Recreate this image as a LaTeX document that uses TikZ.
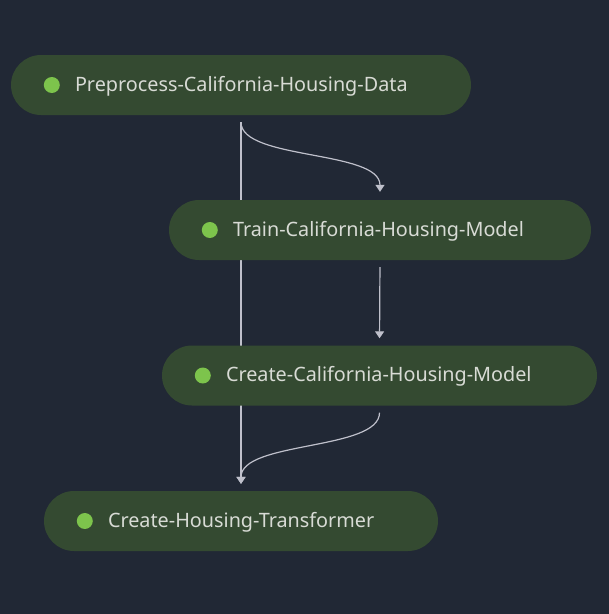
\documentclass[tikz,border=0pt]{standalone}
\usepackage{fontspec}
\setmainfont{Noto Sans}
\usetikzlibrary{positioning, arrows.meta, backgrounds}
\definecolor{bgblue}{HTML}{212835}
\definecolor{pillgreen}{HTML}{344A31}
\definecolor{dotgreen}{HTML}{7DC44C}
\definecolor{textgrey}{HTML}{D8DBD5}
\definecolor{edgegrey}{HTML}{BFC0CB}

\begin{document}
\begin{tikzpicture}[x=1pt, y=-1pt,
  stepbox/.style={fill=pillgreen, rounded corners=30pt, minimum height=60pt, inner sep=0pt},
  statusdot/.style={circle, fill=dotgreen, minimum size=16pt, inner sep=0pt},
  steptext/.style={anchor=west, text=textgrey, inner sep=0pt, font=\fontsize{19.8}{24}\selectfont},
  flow/.style={draw=edgegrey, line width=1.2pt, -{Triangle[width=9pt, length=7pt]}}]
  \useasboundingbox (0,0) rectangle (609,614);

  \node[stepbox, minimum width=460pt] (preprocess) at (241,85) {};
  \node[stepbox, minimum width=422pt] (train)      at (380,230) {};
  \node[stepbox, minimum width=435pt] (model)      at (379.5,375.5) {};
  \node[stepbox, minimum width=394pt] (transform)  at (241,521) {};

  \node[statusdot] (preprocess dot) at ([xshift=41pt]preprocess.west) {};
  \node[steptext]  (preprocess txt) at ([xshift=64pt, yshift=-1pt]preprocess.west) {Preprocess-California-Housing-Data};
  \node[statusdot] (train dot) at ([xshift=41pt]train.west) {};
  \node[steptext]  (train txt) at ([xshift=64pt, yshift=-1pt]train.west) {Train-California-Housing-Model};
  \node[statusdot] (model dot) at ([xshift=41pt]model.west) {};
  \node[steptext]  (model txt) at ([xshift=64pt, yshift=-1pt]model.west) {Create-California-Housing-Model};
  \node[statusdot] (transform dot) at ([xshift=41pt]transform.west) {};
  \node[steptext]  (transform txt) at ([xshift=64pt, yshift=-1pt]transform.west) {Create-Housing-Transformer};

  \begin{scope}[on background layer]
    \fill[bgblue] (0,0) rectangle (609,614);
    \draw[flow, shorten <=7pt, shorten >=7pt] (preprocess.south) -- (transform.north);
    \draw[flow, shorten <=7pt, shorten >=8pt] (preprocess.south)
      .. controls ([yshift=-45pt]preprocess.south) and ([yshift=50pt]train.north) .. (train.north);
    \draw[flow, shorten <=7pt, shorten >=7pt] (train.south) -- (model.north);
    \draw[flow, shorten <=7pt, shorten >=7pt] (model.south)
      .. controls ([yshift=-45pt]model.south) and ([yshift=50pt]transform.north) .. (transform.north);
  \end{scope}
\end{tikzpicture}
\end{document}
